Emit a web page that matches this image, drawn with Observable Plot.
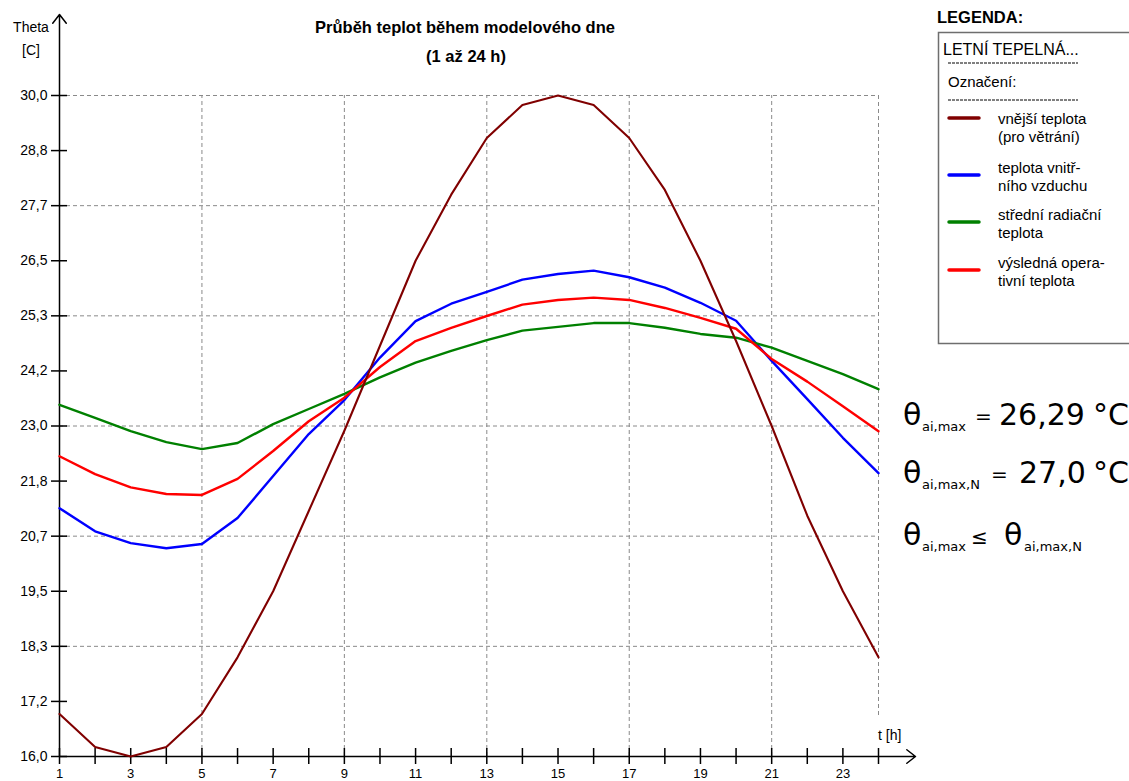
<!DOCTYPE html>
<html><head><meta charset="utf-8">
<script src="https://cdn.jsdelivr.net/npm/d3@7"></script>
<script src="https://cdn.jsdelivr.net/npm/@observablehq/plot@0.6"></script>
<style>
body{margin:0;background:#fff}
#wrap{position:relative;width:1129px;height:781px;overflow:hidden;background:#fff}
#wrap svg{position:absolute;left:0;top:0}
</style>
</head><body><div id="wrap"></div>
<script>
// ---- data ----
const hours = [1,2,3,4,5,6,7,8,9,10,11,12,13,14,15,16,17,18,19,20,21,22,23,24];
const outdoor   = [16.9,16.2,16.0,16.2,16.9,18.1,19.5,21.2,22.9,24.7,26.5,27.9,29.1,29.8,30.0,29.8,29.1,28.0,26.5,24.8,23.0,21.1,19.5,18.1];
const air       = [21.26,20.77,20.52,20.41,20.50,21.05,21.94,22.83,23.55,24.45,25.22,25.59,25.84,26.10,26.22,26.29,26.15,25.93,25.61,25.23,24.38,23.57,22.75,22.00];
const radiant   = [23.45,23.17,22.89,22.66,22.51,22.64,23.04,23.36,23.68,24.03,24.34,24.59,24.82,25.02,25.10,25.18,25.18,25.08,24.95,24.87,24.66,24.38,24.10,23.78];
const operative = [22.36,21.98,21.70,21.56,21.54,21.88,22.47,23.10,23.60,24.25,24.80,25.08,25.33,25.57,25.67,25.72,25.67,25.50,25.29,25.06,24.42,23.94,23.42,22.89];
const xTickLabels = [1,3,5,7,9,11,13,15,17,19,21,23];
const yTickLabels = ["16,0","17,2","18,3","19,5","20,7","21,8","23,0","24,2","25,3","26,5","27,7","28,8","30,0"];
const gridHours = [5,9,13,17,21];
const seriesNames = ["vnější teplota|(pro větrání)","teplota vnitř-|ního vzduchu","střední radiační|teplota","výsledná opera-|tivní teplota"];
const seriesColors = ["#800000","#0000ff","#008000","#ff0000"];

const yMin = 16, yMax = 30, xMin = 1, xMax = 24;
const yStep = (yMax - yMin) / (yTickLabels.length - 1);
const yTicks = yTickLabels.map((_, i) => yMin + i * yStep);
const yGrid = yTicks.filter((_, i) => i % 2 === 0 && i > 0);
const rows = hours.map((h, i) => ({h, outdoor: outdoor[i], air: air[i], radiant: radiant[i], operative: operative[i]}));

const W = 1129, H = 781, mL = 59, mR = 251, mT = 95, mB = 25;
const pxPerY = (H - mT - mB) / (yMax - yMin);
const pxPerX = (W - mL - mR) / (xMax - xMin);
const yArrowTop = yMax + (mT - 14) / pxPerY;
const xArrowEnd = xMax + 37 / pxPerX;
const yGridEnd24 = yMin + 41 / pxPerY;

const grid = {stroke: "#8a8a8a", strokeWidth: 1, strokeDasharray: "4,3"};
const chart = Plot.plot({
  width: W, height: H,
  marginLeft: mL, marginRight: mR, marginTop: mT, marginBottom: mB,
  style: {fontFamily: "'Liberation Sans', Arial, sans-serif", fontSize: "14px", color: "#000", background: "transparent", overflow: "visible"},
  x: {domain: [xMin, xMax]},
  y: {domain: [yMin, yMax]},
  marks: [
    Plot.ruleY(yGrid, {x1: xMin, x2: xMax, ...grid}),
    Plot.ruleX(gridHours, {y1: yMin, y2: yMax, ...grid}),
    Plot.ruleX([xMax], {y1: yGridEnd24, y2: yMax, ...grid}),
    Plot.ruleX(hours, {y1: yMin, y2: yMin, insetTop: -8, insetBottom: -8, stroke: "#000", strokeWidth: 1.5}),
    Plot.ruleY(yTicks, {x1: xMin, x2: xMin, insetLeft: -8, insetRight: -8, stroke: "#000", strokeWidth: 1.5}),
    Plot.arrow([{x1: xMin, y1: yMin, x2: xMin, y2: yArrowTop}], {x1: "x1", y1: "y1", x2: "x2", y2: "y2", stroke: "#000", strokeWidth: 1.5, headLength: 11, headAngle: 76}),
    Plot.arrow([{x1: xMin, y1: yMin, x2: xArrowEnd, y2: yMin}], {x1: "x1", y1: "y1", x2: "x2", y2: "y2", stroke: "#000", strokeWidth: 1.5, headLength: 11, headAngle: 76}),
    Plot.axisX(xTickLabels, {tickSize: 0, tickPadding: 12, fontSize: 13, tickFormat: d => String(d), label: null}),
    Plot.axisY(yTicks, {tickSize: 0, tickPadding: 12, tickFormat: d => yTickLabels[Math.round((d - yMin) / yStep)], label: null}),
    Plot.line(rows, {x: "h", y: "air", stroke: seriesColors[1], strokeWidth: 2.4}),
    Plot.line(rows, {x: "h", y: "radiant", stroke: seriesColors[2], strokeWidth: 2.4}),
    Plot.line(rows, {x: "h", y: "operative", stroke: seriesColors[3], strokeWidth: 2.4}),
    Plot.line(rows, {x: "h", y: "outdoor", stroke: seriesColors[0], strokeWidth: 2.1})
  ]
});
document.getElementById("wrap").appendChild(chart);

// ---- overlay texts ----
const ov = d3.select("#wrap").append("svg").attr("width", W).attr("height", H)
  .style("font-family", "'Liberation Sans', Arial, sans-serif").style("pointer-events", "none");
const t = (x, y, s, o = {}) => ov.append("text").attr("x", x).attr("y", y).text(s)
  .attr("font-size", o.size || 14).attr("font-weight", o.bold ? "bold" : null)
  .attr("text-anchor", o.anchor || "start").attr("fill", "#000");

t(465, 33, "Průběh teplot během modelového dne", {bold: true, size: 16.5, anchor: "middle"});
t(466, 62, "(1 až 24 h)", {bold: true, size: 16.5, anchor: "middle"});
t(31, 32, "Theta", {anchor: "middle"});
t(31, 55, "[C]", {anchor: "middle"});
t(878, 740, "t [h]");

// legend
t(937, 23, "LEGENDA:", {bold: true, size: 16.5});
ov.append("rect").attr("x", 938.5).attr("y", 32.5).attr("width", 300).attr("height", 311)
  .attr("fill", "none").attr("stroke", "#6e6e6e").attr("stroke-width", 1.5);
t(943, 55, "LETNÍ TEPELNÁ...", {size: 16});
t(948, 87, "Označení:", {size: 15});
[63, 100].forEach(y => ov.append("line").attr("x1", 948).attr("x2", 1078).attr("y1", y).attr("y2", y)
  .attr("stroke", "#000").attr("stroke-width", 1).attr("stroke-dasharray", "3,1"));
const entryLineY = [118, 175, 222, 270];
const entryTextY = [124, 173, 220, 268];
seriesNames.forEach((name, i) => {
  ov.append("line").attr("x1", 949).attr("x2", 979).attr("y1", entryLineY[i]).attr("y2", entryLineY[i])
    .attr("stroke", seriesColors[i]).attr("stroke-width", 3.5).attr("stroke-linecap", "round");
  name.split("|").forEach((ln, j) => t(998, entryTextY[i] + j * 18, ln, {size: 15}));
});

// formulas: pieces [x, text, size, yOffset]
const F = "'DejaVu Sans', sans-serif";
const formula = (y, parts) => {
  const el = ov.append("text").attr("y", y).attr("font-family", F).attr("fill", "#000");
  parts.forEach(([x, s, size, dy]) => el.append("tspan").attr("x", x).attr("y", y + dy)
    .attr("font-size", size).text(s));
};
formula(425, [[903, "θ", 30, 0], [922, "ai,max", 13, 6], [975, "=", 20, -2], [999, "26,29", 30, 0], [1093, "°C", 30, 0]]);
formula(483, [[903, "θ", 30, 0], [922, "ai,max,N", 13, 6], [991, "=", 20, -2], [1019, "27,0", 30, 0], [1093, "°C", 30, 0]]);
formula(545, [[903, "θ", 30, 0], [922, "ai,max", 13, 6], [971, "≤", 20, -1], [1004, "θ", 30, 0], [1024, "ai,max,N", 13, 6]]);
</script>
</body></html>
